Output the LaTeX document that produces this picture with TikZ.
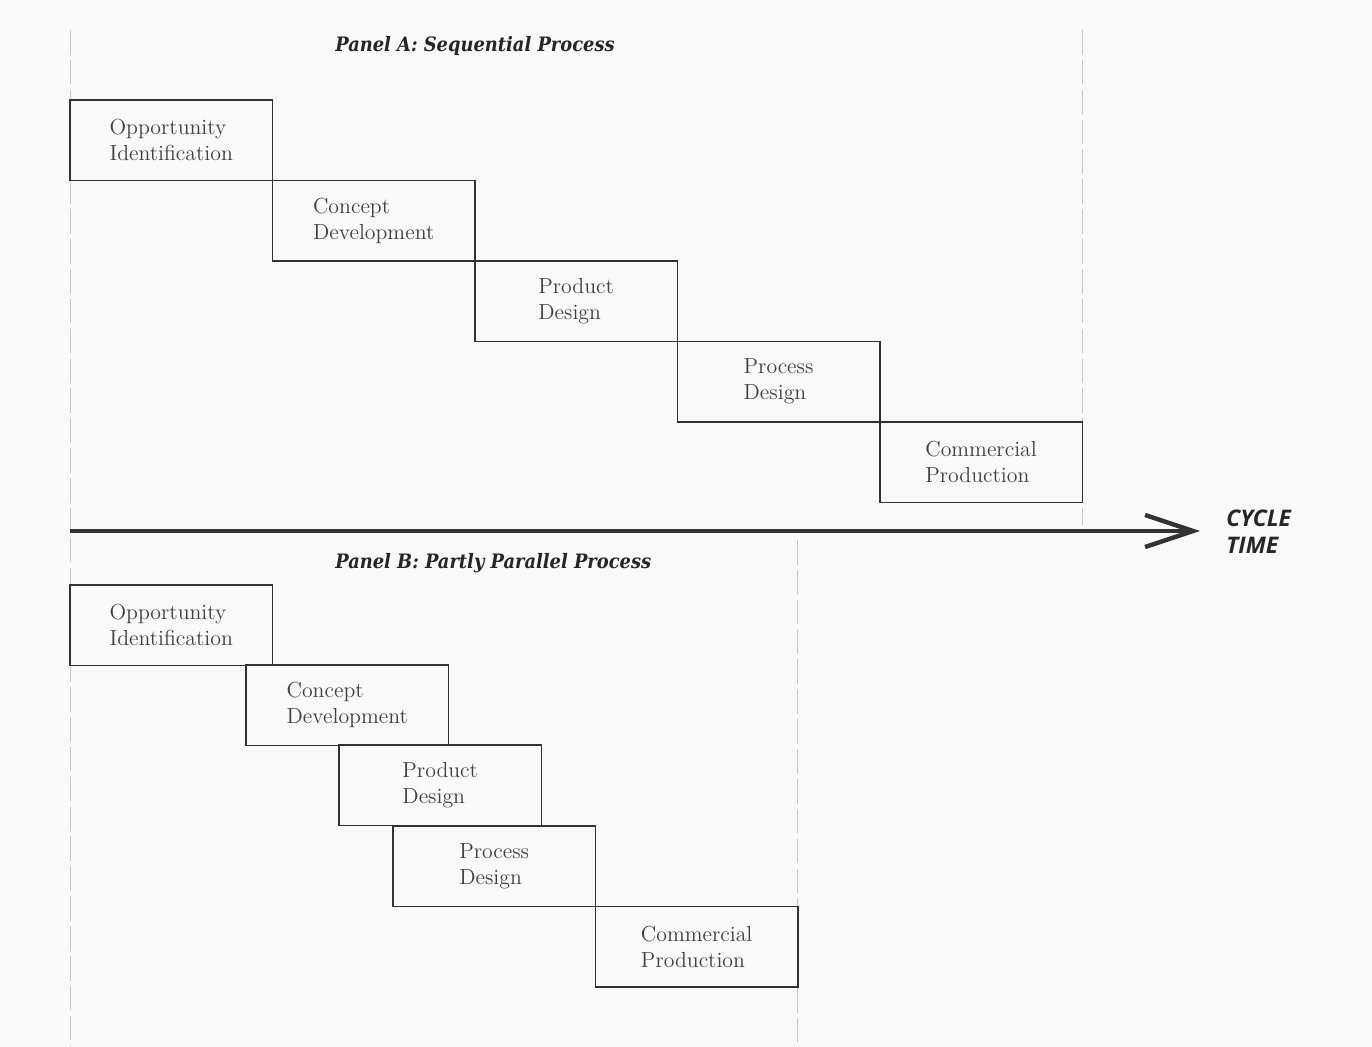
\documentclass[tikz,border=0pt]{standalone}
\usepackage{fontspec}
\newfontfamily\axisfont{Open Sans}
\newfontfamily\titlefont{DejaVu Serif Condensed}
\usetikzlibrary{arrows.meta,positioning}
\tikzset{
  stagebox/.style={draw=black!80, line width=.9pt, minimum width=4.05cm,
    minimum height=1.61cm, inner sep=0pt, outer sep=0pt, anchor=north west,
    align=left, text=black!75, font=\fontsize{12.4}{14.8}\selectfont},
  paneltitle/.style={anchor=west, inner sep=0pt, text=black!85,
    font=\titlefont\fontsize{11.3}{14}\selectfont\bfseries\itshape},
  guide/.style={draw=black!22, line width=.5pt, dash pattern=on 14pt off 3pt},
}
\begin{document}
\begin{tikzpicture}[x=0.02cm, y=-0.02cm]
  \fill[gray!5] (0,0) rectangle (1372,1047);
  \useasboundingbox (0,0) rectangle (1372,1047);
  % Hilfslinien
  \draw[guide]
  (70,30) -- (70,1047)
  (1082,30) -- (1082,525)
  (797,540) -- (797,1047)
  ;
  % Panel A: sequentiell
  \node[paneltitle] (titleA) at (335,46) {Panel A: Sequential Process};
  \node[stagebox] (A1) at (70,100) {Opportunity\\Identification};
  \node[stagebox] (A2) at (A1.south east) {Concept\\Development};
  \node[stagebox] (A3) at (A2.south east) {Product\\Design};
  \node[stagebox] (A4) at (A3.south east) {Process\\Design};
  \node[stagebox] (A5) at (A4.south east) {Commercial\\Production};
  % Zeitachse
  \coordinate (t0) at (70,531);
  \coordinate (t1) at (1200,531);
  \draw[line width=2.5pt, black!80,
    -{Straight Barb[length=0.96cm, width=0.64cm]}] (t0) -- (t1);
  \node[anchor=west, align=left, inner sep=0pt, text=black!85,
    font=\axisfont\fontsize{13}{15.5}\selectfont\bfseries\itshape]
    (cycle) at (1226,532) {CYCLE\\TIME};
  % Panel B: teilweise parallel
  \node[paneltitle] (titleB) at (335,563) {Panel B: Partly Parallel Process};
  \node[stagebox] (B1) at (70,585) {Opportunity\\Identification};
  \node[stagebox] (B2) at (246,665) {Concept\\Development};
  \node[stagebox] (B3) at (339,745) {Product\\Design};
  \node[stagebox] (B4) at (393,826) {Process\\Design};
  \node[stagebox] (B5) at (B4.south east) {Commercial\\Production};
\end{tikzpicture}
\end{document}
